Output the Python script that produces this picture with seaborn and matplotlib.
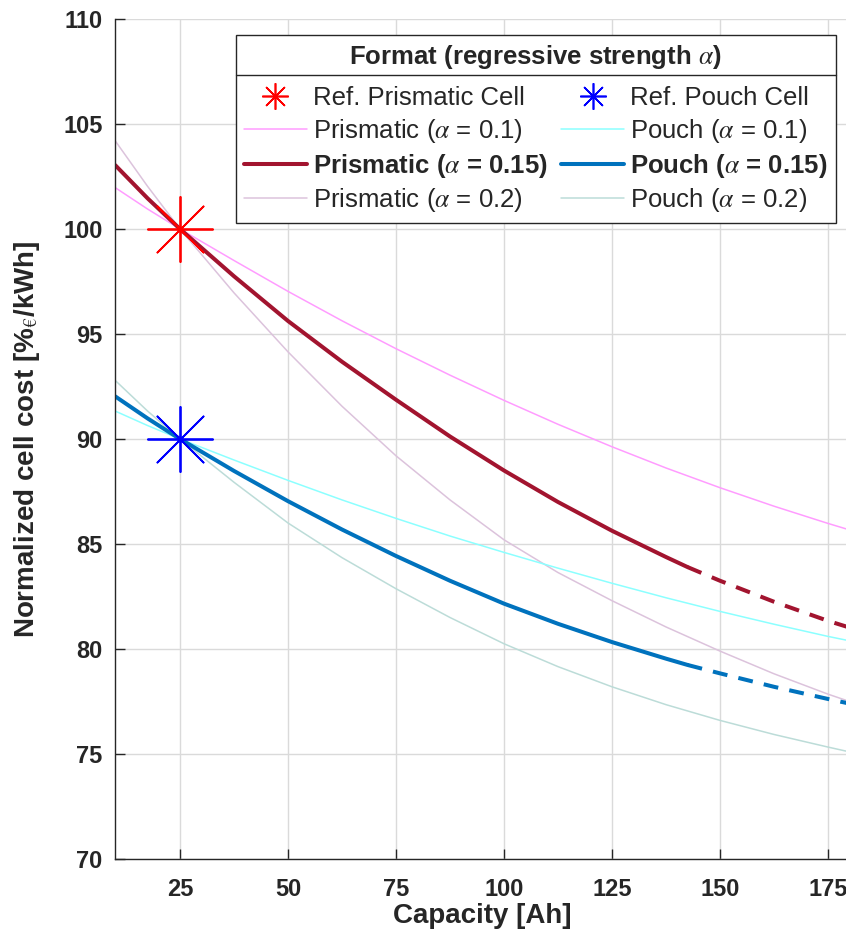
import matplotlib
matplotlib.use("Agg")
import matplotlib.pyplot as plt
from matplotlib.lines import Line2D
import seaborn as sns

cap = [10, 17.5, 25, 37.5, 50, 62.5, 75, 87.5, 100, 112.5, 125, 137.5, 150, 162.5, 175, 180]
cap_fit = [10, 17.5, 25, 37.5, 50, 62.5, 75, 87.5, 100, 112.5, 125, 137.5, 142.5]
cap_ext = [142.5, 150, 162.5, 175, 180]

prism_01 = [101.97, 100.95, 100.0, 98.5, 97.03, 95.63, 94.3, 93.04, 91.84, 90.7, 89.63, 88.62, 87.68, 86.8, 85.98, 85.67]
prism_02 = [104.2, 102.03, 100.0, 96.96, 94.15, 91.56, 89.2, 87.1, 85.2, 83.64, 82.3, 81.05, 79.9, 78.82, 77.85, 77.5]
pouch_01 = [91.33, 90.64, 90.0, 89.0, 88.03, 87.1, 86.22, 85.38, 84.6, 83.85, 83.13, 82.44, 81.79, 81.18, 80.6, 80.39]
pouch_02 = [92.79, 91.33, 90.0, 87.94, 86.0, 84.35, 82.87, 81.5, 80.25, 79.16, 78.2, 77.35, 76.6, 75.93, 75.33, 75.1]

prism_015_fit = [103.04, 101.46, 100.0, 97.75, 95.62, 93.68, 91.87, 90.12, 88.5, 87.0, 85.63, 84.38, 83.9]
prism_015_ext = [83.9, 83.25, 82.25, 81.34, 81.02]
pouch_015_fit = [92.03, 90.98, 90.0, 88.48, 87.04, 85.69, 84.43, 83.25, 82.16, 81.2, 80.33, 79.54, 79.24]
pouch_015_ext = [79.24, 78.84, 78.2, 77.62, 77.4]

ref_cap = [25]
ref_prism = [100]
ref_pouch = [90]

c_p01, c_p015, c_p02 = '#FF9CFF', '#A2142F', '#DCC3DC'
c_b01, c_b015, c_b02 = '#8CFFFF', '#0072BD', '#BCDCD8'

sns.set_style("ticks")
plt.rcParams['font.family'] = ['Liberation Sans', 'DejaVu Sans']
plt.rcParams['mathtext.fontset'] = 'stix'

fig = plt.figure(figsize=(8.46, 9.39), dpi=100)
ax = fig.add_axes([115.2 / 846, 80 / 939, (849.6 - 115.2) / 846, 840 / 939])

thin = 1.1
thick = 2.9
dash = (0, (3.7, 2.8))
sns.lineplot(x=cap, y=prism_01, ax=ax, color=c_p01, lw=thin)
sns.lineplot(x=cap, y=prism_02, ax=ax, color=c_p02, lw=thin)
sns.lineplot(x=cap, y=pouch_01, ax=ax, color=c_b01, lw=thin)
sns.lineplot(x=cap, y=pouch_02, ax=ax, color=c_b02, lw=thin)

sns.lineplot(x=cap_fit, y=prism_015_fit, ax=ax, color=c_p015, lw=thick)
sns.lineplot(x=cap_ext, y=prism_015_ext, ax=ax, color=c_p015, lw=thick, linestyle=dash)
sns.lineplot(x=cap_fit, y=pouch_015_fit, ax=ax, color=c_b015, lw=thick)
sns.lineplot(x=cap_ext, y=pouch_015_ext, ax=ax, color=c_b015, lw=thick, linestyle=dash)

star = (8, 2, 0)
sns.scatterplot(x=ref_cap, y=ref_prism, ax=ax, marker=star, s=2200,
                color='#FF0000', linewidth=1.3, zorder=5)
sns.scatterplot(x=ref_cap, y=ref_pouch, ax=ax, marker=star, s=2200,
                color='#0000FF', linewidth=1.3, zorder=5)

ax.set_xlim(10, 180)
ax.set_ylim(70, 110)
ax.set_xticks([25, 50, 75, 100, 125, 150, 175])
ax.set_yticks(range(70, 111, 5))
ax.grid(True, color='#DADADA', lw=1)
ax.set_axisbelow(True)
for s in ['top', 'right']:
    ax.spines[s].set_visible(False)
for s in ['left', 'bottom']:
    ax.spines[s].set_color('#262626')
    ax.spines[s].set_linewidth(1.0)
ax.tick_params(direction='in', length=7, width=1, colors='#262626', labelsize=17)
ax.tick_params(axis='x', pad=14)
ax.tick_params(axis='y', pad=9)
for lab in ax.get_xticklabels() + ax.get_yticklabels():
    lab.set_fontweight('bold')

ax.set_xlabel('Capacity [Ah]', fontsize=20, fontweight='bold', color='#262626', labelpad=1)
ax.set_ylabel('Normalized cell cost [%$_{€}$/kWh]', fontsize=20, fontweight='bold',
              color='#262626')
ax.yaxis.set_label_coords(-0.1, 0.5)

handles = [
    Line2D([], [], marker=star, ms=19, mew=1.2, color='#FF0000', ls='none'),
    Line2D([], [], color=c_p01, lw=thin),
    Line2D([], [], color=c_p015, lw=thick),
    Line2D([], [], color=c_p02, lw=thin),
    Line2D([], [], marker=star, ms=19, mew=1.2, color='#0000FF', ls='none'),
    Line2D([], [], color=c_b01, lw=thin),
    Line2D([], [], color=c_b015, lw=thick),
    Line2D([], [], color=c_b02, lw=thin),
]
labels = ['Ref. Prismatic Cell', r'Prismatic ($\alpha$ = 0.1)',
          r'Prismatic ($\alpha$ = 0.15)', r'Prismatic ($\alpha$ = 0.2)',
          'Ref. Pouch Cell', r'Pouch ($\alpha$ = 0.1)',
          r'Pouch ($\alpha$ = 0.15)', r'Pouch ($\alpha$ = 0.2)']
leg = ax.legend(handles, labels, ncol=2, loc='upper right',
                bbox_to_anchor=(0.9815, 0.981), borderaxespad=0,
                title=r'Format (regressive strength $\alpha$)',
                title_fontproperties={'weight': 'bold', 'size': 18.5},
                fontsize=18.5, frameon=True, fancybox=False, framealpha=1,
                edgecolor='#262626', handlelength=2.45, handletextpad=0.23,
                columnspacing=0.54, labelspacing=0.26, borderpad=0.33)
leg.get_frame().set_linewidth(1.0)
for i in (2, 6):
    leg.get_texts()[i].set_fontweight('bold')
# more room between the title and the entries
leg._legend_box.sep = 10.8

# separator line under the legend title
fig.canvas.draw()
lb = leg.get_window_extent()
tb = leg.get_title().get_window_extent()
inv = fig.transFigure.inverted()
(x0, y0), (x1, _) = inv.transform([(lb.x0, tb.y0 - 4), (lb.x1, tb.y0 - 4)])
fig.add_artist(Line2D([x0, x1], [y0, y0], color='#262626', lw=1.0,
                      transform=fig.transFigure))

fig.savefig('out.png', dpi=100)
